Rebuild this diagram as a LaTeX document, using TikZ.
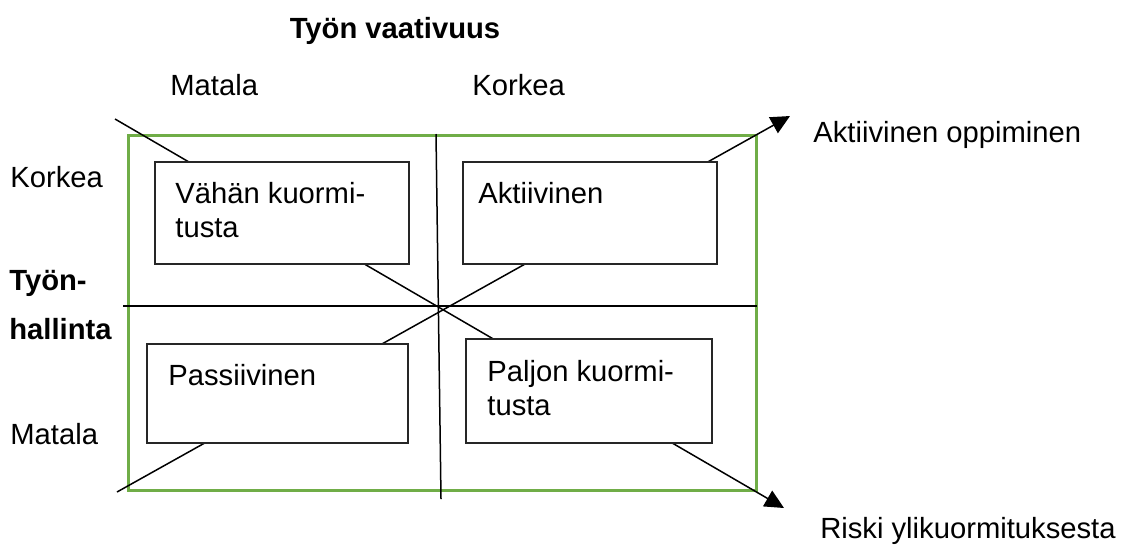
\documentclass[tikz,border=0pt]{standalone}
\usepackage{fontspec}
\setmainfont{Liberation Sans}
\usetikzlibrary{arrows.meta}
\definecolor{officegreen}{RGB}{112,173,71}
\tikzset{
  frame/.style={draw=officegreen, line width=1.5pt},
  axis/.style={draw=black, line width=0.75pt},
  diag/.style={draw=black, line width=0.75pt, -{Triangle[length=9.5pt,width=9pt]}},
  quad/.style={draw=black!85, line width=0.9pt, fill=white, rectangle, inner sep=0pt},
  lbl/.style={anchor=base west, inner sep=0pt, font=\fontsize{14.6}{17.1}\selectfont},
  blbl/.style={lbl, font=\fontsize{14.6}{17.1}\selectfont\bfseries},
}
\begin{document}
\begin{tikzpicture}[x=0.5pt,y=-0.5pt]
\useasboundingbox (0,0) rectangle (1122,547);
% frame
\draw[frame] (128,135) rectangle (756,490);
% axes
\coordinate (vtop) at (436,134);
\coordinate (vbot) at (441,499);
\coordinate (hl) at (123,306);
\coordinate (hr) at (757,306);
\draw[axis] (vtop) -- (vbot);
\draw[axis] (hl) -- (hr);
% diagonals
\coordinate (d1s) at (115,119);
\coordinate (d1e) at (784,508);
\coordinate (d2s) at (117,492);
\coordinate (d2e) at (790,116);
\draw[diag] (d1s) -- (d1e);
\draw[diag] (d2s) -- (d2e);
% quadrant boxes
\node[quad, minimum width=254pt*0.5, minimum height=102pt*0.5] (vahan) at (282,213) {};
\node[quad, minimum width=254pt*0.5, minimum height=102pt*0.5] (aktiivinen) at (590,213) {};
\node[quad, minimum width=261pt*0.5, minimum height=99pt*0.5] (passiivinen) at (277.5,393.5) {};
\node[quad, minimum width=246pt*0.5, minimum height=104pt*0.5] (paljon) at (589,391) {};
% box texts
\node[lbl] (t1) at (175,203) {Vähän kuormi-};
\node[lbl] (t1b) at (175,237) {tusta};
\node[lbl] (t2) at (478,203) {Aktiivinen};
\node[lbl] (t3) at (168,385) {Passiivinen};
\node[lbl] (t4) at (487,381) {Paljon kuormi-};
\node[lbl] (t4b) at (487,415) {tusta};
% headings
\node[blbl, anchor=base] (title) at (395,38) {Työn vaativuus};
\node[lbl] (mtop) at (170,95) {Matala};
\node[lbl] (ktop) at (472,95) {Korkea};
\node[lbl] (kleft) at (10,187) {Korkea};
\node[blbl] (th1) at (9,290) {Työn-};
\node[blbl] (th2) at (9,339) {hallinta};
\node[lbl] (mleft) at (10,444) {Matala};
\node[lbl] (ao) at (813,142) {Aktiivinen oppiminen};
\node[lbl, anchor=base east] (ry) at (1116,538) {Riski ylikuormituksesta};
\end{tikzpicture}
\end{document}
